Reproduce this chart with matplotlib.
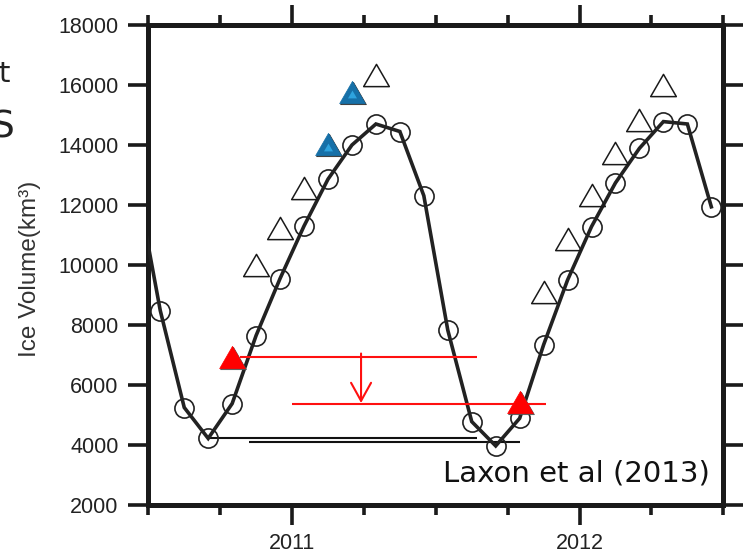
import matplotlib
matplotlib.use("Agg")
import matplotlib.pyplot as plt
from matplotlib.ticker import FixedLocator, NullFormatter
from matplotlib.markers import MarkerStyle
from matplotlib.path import Path
import matplotlib.transforms as mtransforms

plt.rcParams['font.family'] = ['Liberation Sans', 'DejaVu Sans']

# ---------------- data ----------------
# monthly modelled ice volume (year, month, km^3)
model_year = [2010, 2010, 2010, 2010, 2010, 2010, 2010,
              2011, 2011, 2011, 2011, 2011, 2011, 2011, 2011, 2011, 2011, 2011, 2011,
              2012, 2012, 2012, 2012, 2012, 2012]
model_month = [6, 7, 8, 9, 10, 11, 12,
               1, 2, 3, 4, 5, 6, 7, 8, 9, 10, 11, 12,
               1, 2, 3, 4, 5, 6]
model_volume = [12800, 8480, 5250, 4220, 5380, 7650, 9550,
                11300, 12860, 14000, 14700, 14450, 12310, 7830, 4780, 3970, 4890, 7340, 9500,
                11280, 12740, 13890, 14780, 14700, 11940]

# open triangles (observations)
obs_year = [2010, 2010, 2011, 2011, 2011, 2011, 2012, 2012, 2012, 2012]
obs_month = [11, 12, 1, 4, 11, 12, 1, 2, 3, 4]
obs_volume = [10000, 11220, 12560, 16330, 9100, 10860, 12330, 13720, 14830, 16000]

# blue filled triangles
blue_year = [2011, 2011]
blue_month = [2, 3]
blue_volume = [14030, 15780]

# red filled triangles
red_year = [2010, 2011]
red_month = [10, 10]
red_volume = [6940, 5440]

# annotation lines (decimal year start, end, level)
black_start = [2010.708, 2010.850]
black_end = [2011.642, 2011.793]
black_level = [4250, 4090]
redline_start = [2010.819, 2010.999]
redline_end = [2011.642, 2011.882]
redline_level = [6940, 5360]
arrow_x = 2011.24
arrow_from = 7050
arrow_to = 5400

year_ticks = [2011, 2012]
year_labels = ["2011", "2012"]
quarter_ticks = [2010.5, 2010.75, 2011.25, 2011.5, 2011.75, 2012.25, 2012.5]
volume_ticks = [2000, 4000, 6000, 8000, 10000, 12000, 14000, 16000, 18000]
annotation_text = "Laxon et al (2013)"
ylabel_text = "Ice Volume(km³)"


def dec(years, months):
    return [y + (m - 0.5) / 12.0 for y, m in zip(years, months)]


# ---------------- figure ----------------
W, H = 744, 556
fig = plt.figure(figsize=(W / 100, H / 100), dpi=100)
L, R, T, B = 148.3, 723.3, 25, 505
ax = fig.add_axes([L / W, 1 - B / H, (R - L) / W, (B - T) / H])
ax.set_xlim(2010.5, 2012.5)
ax.set_ylim(2000, 18000)

for s in ax.spines.values():
    s.set_linewidth(3.6)
    s.set_color('#1a1a1a')

ax.xaxis.set_major_locator(FixedLocator(year_ticks))
ax.set_xticklabels(year_labels)
ax.xaxis.set_minor_locator(FixedLocator(quarter_ticks))
ax.xaxis.set_minor_formatter(NullFormatter())
ax.yaxis.set_major_locator(FixedLocator(volume_ticks))
ax.set_yticklabels([str(v) for v in volume_ticks])

ax.tick_params(which='major', direction='out', length=14.4, width=2.6, color='#1a1a1a',
               top=True, right=True, labelsize=15.5, labelcolor='#222222')
ax.tick_params(which='minor', direction='out', length=7.5, width=2.6, color='#1a1a1a',
               top=True, right=False)
ax.tick_params(axis='y', which='major', pad=7.0)
ax.tick_params(axis='x', which='major', pad=6)
ax.tick_params(axis='y', which='minor', left=False, right=False)

# triangle marker (equilateral, bbox centred)
tri = MarkerStyle(Path([(-1, -0.866), (1, -0.866), (0, 0.866), (-1, -0.866)],
                       [Path.MOVETO, Path.LINETO, Path.LINETO, Path.CLOSEPOLY]))

mx = dec(model_year, model_month)
ax.plot(mx, model_volume, color='#222222', lw=2.6, zorder=3, solid_joinstyle='miter')
ax.plot(mx, model_volume, linestyle='none', marker='o', markersize=13.8,
        markerfacecolor='none', markeredgecolor='#222222', markeredgewidth=1.2, zorder=4)

ax.plot(dec(obs_year, obs_month), obs_volume, linestyle='none', marker=tri, markersize=18.5,
        markerfacecolor='none', markeredgecolor='#1a1a1a', markeredgewidth=1.1, zorder=4)

shadow = mtransforms.offset_copy(ax.transData, fig=fig, x=1.2, y=-1.2, units='dots')
inner = mtransforms.offset_copy(ax.transData, fig=fig, x=0, y=-2.5, units='dots')

bx = dec(blue_year, blue_month)
ax.plot(bx, blue_volume, linestyle='none', marker=tri, markersize=18.5, transform=shadow,
        markerfacecolor='#333333', markeredgecolor='#333333', markeredgewidth=0.6, zorder=5)
ax.plot(bx, blue_volume, linestyle='none', marker=tri, markersize=18.5,
        markerfacecolor='#1670a8', markeredgecolor='#1670a8', markeredgewidth=0.5, zorder=6)
ax.plot(bx, blue_volume, linestyle='none', marker=tri, markersize=6.5, transform=inner,
        markerfacecolor='#2ea3de', markeredgecolor='none', zorder=7)

rx = dec(red_year, red_month)
ax.plot(rx, red_volume, linestyle='none', marker=tri, markersize=18.5, transform=shadow,
        markerfacecolor='#555555', markeredgecolor='#555555', markeredgewidth=0.6, zorder=8)
ax.plot(rx, red_volume, linestyle='none', marker=tri, markersize=18.5,
        markerfacecolor='#ff0000', markeredgecolor='#ff0000', markeredgewidth=0.5, zorder=9)

for x0, x1, y in zip(black_start, black_end, black_level):
    ax.plot([x0, x1], [y, y], color='#111111', lw=1.5, zorder=2, solid_capstyle='butt')
for x0, x1, y in zip(redline_start, redline_end, redline_level):
    ax.plot([x0, x1], [y, y], color='#ff1010', lw=1.5, zorder=8, solid_capstyle='butt')

ax.annotate('', xy=(arrow_x, arrow_to), xytext=(arrow_x, arrow_from),
            arrowprops=dict(arrowstyle='->,head_length=0.65,head_width=0.36',
                            color='#ff1010', lw=1.5, shrinkA=0, shrinkB=0,
                            mutation_scale=20), zorder=8)

ax.text(0.977, 0.048, annotation_text, transform=ax.transAxes, ha='right', va='baseline',
        fontsize=21, color='#111111', family=['DejaVu Sans'], zorder=10)

fig.text(30 / W, 1 - 268.5 / H, ylabel_text, rotation=90, ha='center', va='center',
         fontsize=17.5, color='#333333')

# fragments of text from a neighbouring panel, cut by the left edge
fig.text(10 / W, 1 - 82 / H, "t", ha='right', va='baseline', fontsize=21,
         color='#222222', family=['DejaVu Sans'])
fig.text(14 / W, 1 - 137 / H, "S", ha='right', va='baseline', fontsize=27,
         color='#222222', family=['DejaVu Sans'])

fig.savefig("out.png", dpi=100)
